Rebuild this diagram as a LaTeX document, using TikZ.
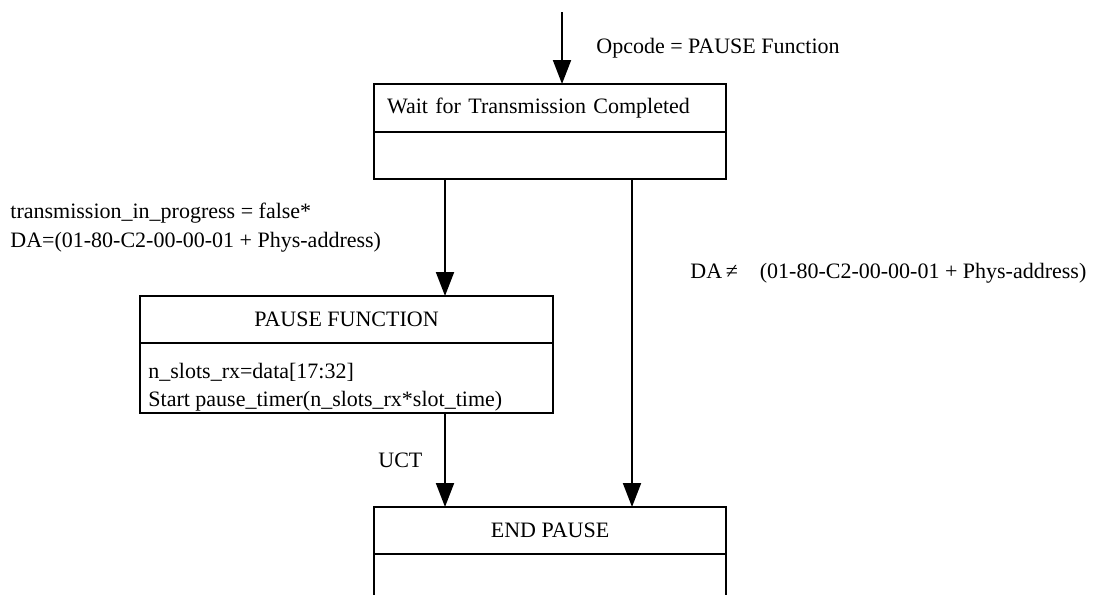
\documentclass[tikz,border=0pt]{standalone}
\usepackage{fontspec}
\setmainfont{Liberation Serif}
\usetikzlibrary{arrows.meta}
\begin{document}
\begin{tikzpicture}[x=0.5pt,y=-0.5pt, font=\fontsize{11}{14.5}\selectfont,
  box/.style={draw, line width=1pt, inner sep=0pt, outer sep=0pt, minimum width=176pt},
  arr/.style={line width=1pt, -{Triangle[width=9pt,length=12pt]}},
  lbl/.style={anchor=west, inner sep=0pt}]
\clip (0,0) rectangle (1096,594);
\fill[white] (0,0) rectangle (1096,594);
% boxes
\node[box, minimum height=24pt, text width=163pt, inner xsep=6.5pt, align=left] (w1top) at (550,108) {Wait for Transmission Completed};
\node[box, minimum height=23.5pt, anchor=north] (w1bot) at (w1top.south) {};
\node[box, minimum width=206.5pt, minimum height=23.5pt] (p1top) at (346.5,319.5) {PAUSE FUNCTION};
\node[box, minimum width=206.5pt, minimum height=35pt, anchor=north] (p1bot) at (p1top.south) {};
\node[lbl, align=left, font=\fontsize{11}{14}\selectfont] (p1txt) at (148,387) {n\_slots\_rx=data[17:32]\\Start pause\_timer(n\_slots\_rx*slot\_time)};
\node[box, minimum height=23.5pt] (e1top) at (550,530.5) {END PAUSE};
\node[box, minimum height=50pt, anchor=north] (e1bot) at (e1top.south) {};
% connectors
\coordinate (src) at (562,12);
\coordinate (xl) at (445,0);
\coordinate (xr) at (632,0);
\draw[arr] (src) -- (src |- w1top.north);
\draw[arr] (w1bot.south -| xl) -- (p1top.north -| xl);
\draw[arr] (p1bot.south -| xl) -- (e1top.north -| xl);
\draw[arr] (w1bot.south -| xr) -- (e1top.north -| xr);
% labels
\node[lbl] (lop) at (596,48) {Opcode = PAUSE Function};
\node[lbl, align=left] (lda) at (10,227.5) {transmission\_in\_progress = false*\\DA=(01-80-C2-00-00-01 + Phys-address)};
\node[lbl] (lne) at (690,273) {DA\,≠\quad(01-80-C2-00-00-01 + Phys-address)};
\node[lbl] (luct) at (378,460) {UCT};
\end{tikzpicture}
\end{document}
